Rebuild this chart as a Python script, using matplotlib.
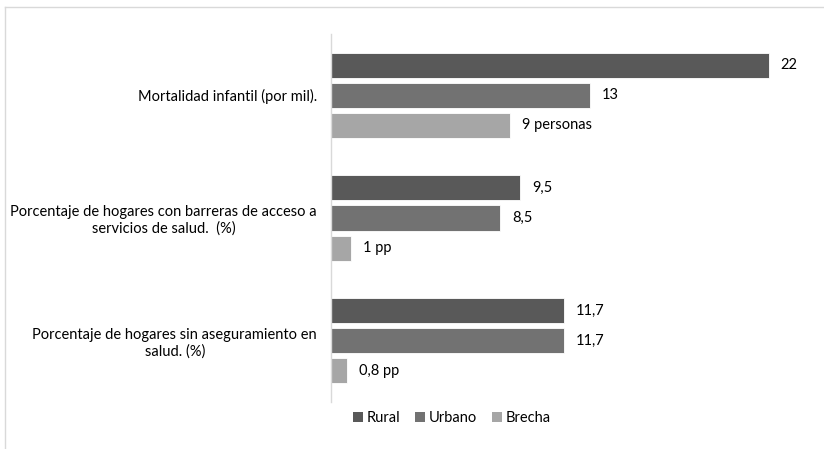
import matplotlib
matplotlib.use("Agg")
import matplotlib.pyplot as plt
from matplotlib.lines import Line2D
from matplotlib.patches import Patch

plt.rcParams['font.family'] = ['Lato', 'DejaVu Sans']

categories = [
    "Mortalidad infantil (por mil).",
    "Porcentaje de hogares con barreras de acceso a\nservicios de salud.  (%)",
    "Porcentaje de hogares sin aseguramiento en\nsalud. (%)",
]
series_names = ["Rural", "Urbano", "Brecha"]
rural = [22, 9.5, 11.7]
urbano = [13, 8.5, 11.7]
brecha = [9, 1, 0.8]
rural_labels = ["22", "9,5", "11,7"]
urbano_labels = ["13", "8,5", "11,7"]
brecha_labels = ["9 personas", "1 pp", "0,8 pp"]

colors = ["#595959", "#727272", "#a6a6a6"]

W, H = 824, 449
fig = plt.figure(figsize=(W / 100, H / 100), dpi=100)

# axes placed in pixel terms
x0, x1 = 331, 824
y_top, y_bot = 34, 402
ax = fig.add_axes([x0 / W, 1 - y_bot / H, (x1 - x0) / W, (y_bot - y_top) / H])

px_per_unit = (768.7 - 331) / 22
ax.set_xlim(0, (x1 - x0) / px_per_unit)
ax.set_ylim(2.5, -0.5)

bar_h = 0.204
offset = 0.245
all_vals = [rural, urbano, brecha]
all_labels = [rural_labels, urbano_labels, brecha_labels]
for s, (vals, labs, col) in enumerate(zip(all_vals, all_labels, colors)):
    for i, (v, lab) in enumerate(zip(vals, labs)):
        y = i + (s - 1) * offset
        ax.barh(y, v, height=bar_h, color=col, edgecolor="white", linewidth=0.6)
        ax.text(v + 12 / px_per_unit, y, lab, va="center", ha="left",
                fontsize=10.5, color="#000000")

ax.set_yticks(range(len(categories)))
ax.set_yticklabels(categories, fontsize=10.5, multialignment="center")
ax.tick_params(axis="y", length=0, pad=10)
ax.set_xticks([])
for side in ["top", "right", "bottom"]:
    ax.spines[side].set_visible(False)
ax.spines["left"].set_color("#d9d9d9")
ax.spines["left"].set_linewidth(1.0)

handles = [Patch(facecolor=c, edgecolor="none") for c in colors]
fig.legend(handles, series_names, loc="center", bbox_to_anchor=(452 / W, 1 - 418 / H),
           ncol=3, frameon=False, fontsize=10.5, handlelength=0.7, handleheight=0.7,
           handletextpad=0.25, columnspacing=1.0)

# chart area border
fig.add_artist(Line2D([4.5 / W, 4.5 / W], [0, 1 - 6.5 / H], transform=fig.transFigure,
                      color="#d9d9d9", linewidth=1.0))
fig.add_artist(Line2D([4.5 / W, 1], [1 - 6.5 / H, 1 - 6.5 / H], transform=fig.transFigure,
                      color="#d9d9d9", linewidth=1.0))

fig.savefig("out.png", dpi=100, facecolor="white")
